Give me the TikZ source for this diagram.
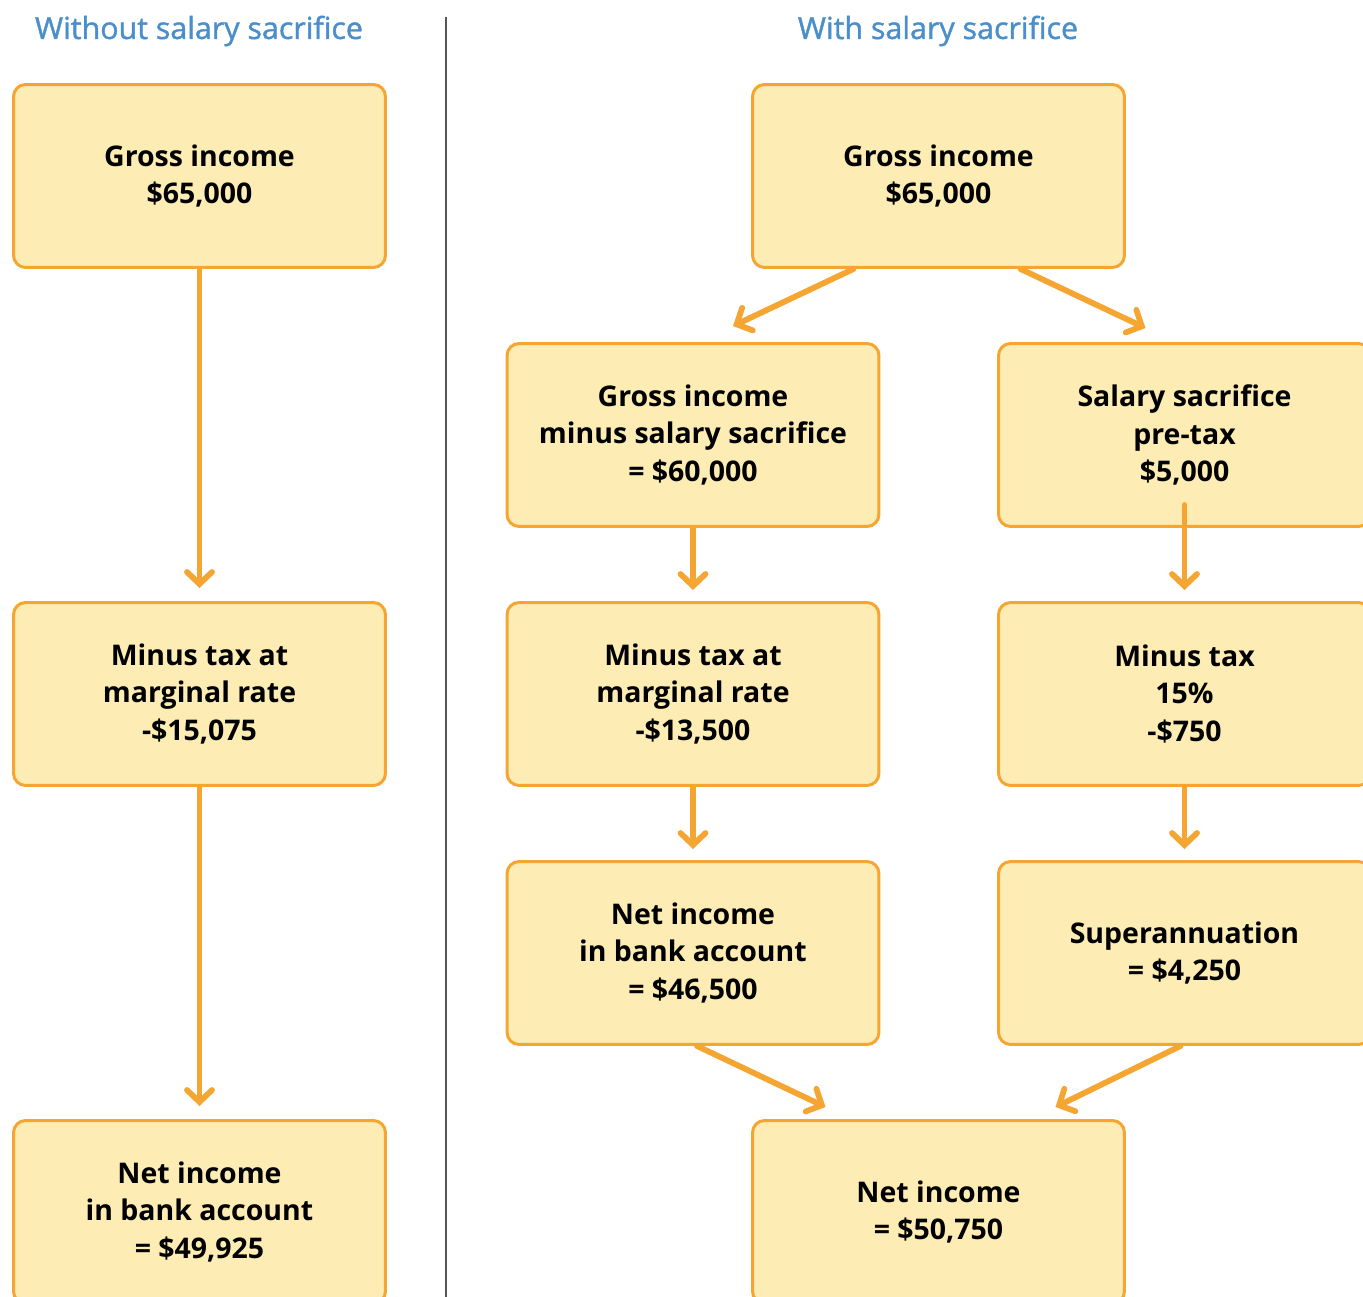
\documentclass[tikz,border=0pt]{standalone}
\usepackage{fontspec}
\setmainfont{Open Sans}
\newfontfamily\headfont{Open Sans}[FakeBold=1.3]
\usetikzlibrary{arrows.meta,positioning}
\definecolor{boxfill}{HTML}{FDECB3}
\definecolor{boxline}{HTML}{F5A532}
\definecolor{headblue}{HTML}{4A8FCB}
\definecolor{rulegray}{HTML}{555555}

\begin{document}
\begin{tikzpicture}[x=0.02cm,y=-0.02cm,
  stage/.style={rectangle,rounded corners=0.24cm,draw=boxline,fill=boxfill,
    line width=1.7pt,minimum width=7.44cm,minimum height=3.66cm,inner sep=0pt,
    align=center,font=\bfseries\fontsize{16.2}{21.3}\selectfont},
  flow/.style={draw=boxline,line width=3.3pt,line cap=round,
    -{Straight Barb[length=0.24cm,width=0.5cm,line cap=round]}},
  heading/.style={text=headblue,font=\headfont\fontsize{17.3}{21}\selectfont}]
  \useasboundingbox (0,0) rectangle (1363,1297);
  \clip (0,0) rectangle (1363,1297);
  % headings and divider
  \node[heading] (headA) at (199,31) {Without salary sacrifice};
  \node[heading] (headB) at (938,31) {With salary sacrifice};
  \coordinate (divtop) at (446,17);
  \coordinate (divbot) at (446,1297);
  \draw[rulegray,line width=0.9pt] (divtop) -- (divbot);
  % left column
  \node[stage] (grossA) at (199.5,176) {Gross income\\\$65,000};
  \node[stage] (taxA) at (199.5,694) {Minus tax at\\marginal rate\\-\$15,075};
  \node[stage] (netA) at (199.5,1212) {Net income\\in bank account\\= \$49,925};
  % right part
  \node[stage] (grossB) at (938.5,176) {Gross income\\\$65,000};
  \node[stage] (afterB) at (693,435) {Gross income\\minus salary sacrifice\\= \$60,000};
  \node[stage] (sacB) at (1184.5,435) {Salary sacrifice\\pre-tax\\\$5,000};
  \node[stage] (taxB) at (693,694) {Minus tax at\\marginal rate\\-\$13,500};
  \node[stage] (taxC) at (1184.5,694) {Minus tax\\15\%\\-\$750};
  \node[stage] (netB) at (693,953) {Net income\\in bank account\\= \$46,500};
  \node[stage] (superB) at (1184.5,953) {Superannuation\\= \$4,250};
  \node[stage] (total) at (938.5,1212) {Net income\\= \$50,750};
  % connectors
  \draw[flow,shorten >=0.26cm] (grossA) -- (taxA);
  \draw[flow,shorten >=0.26cm] (taxA) -- (netA);
  \draw[flow] ([xshift=-1.7cm]grossB.south) -- ([xshift=0.8cm,yshift=0.32cm]afterB.north);
  \draw[flow] ([xshift=1.64cm]grossB.south) -- ([xshift=-0.78cm,yshift=0.28cm]sacB.north);
  \draw[flow,shorten >=0.22cm] (afterB) -- (taxB);
  \draw[flow,shorten >=0.22cm] ([yshift=0.46cm]sacB.south) -- (taxC.north);
  \draw[flow,shorten >=0.22cm] (taxB) -- (netB);
  \draw[flow,shorten >=0.22cm] (taxC) -- (superB);
  \draw[flow] ([xshift=0.08cm]netB.south) -- ([xshift=-2.26cm,yshift=0.24cm]total.north);
  \draw[flow] ([xshift=-0.08cm]superB.south) -- ([xshift=2.34cm,yshift=0.24cm]total.north);
\end{tikzpicture}
\end{document}
